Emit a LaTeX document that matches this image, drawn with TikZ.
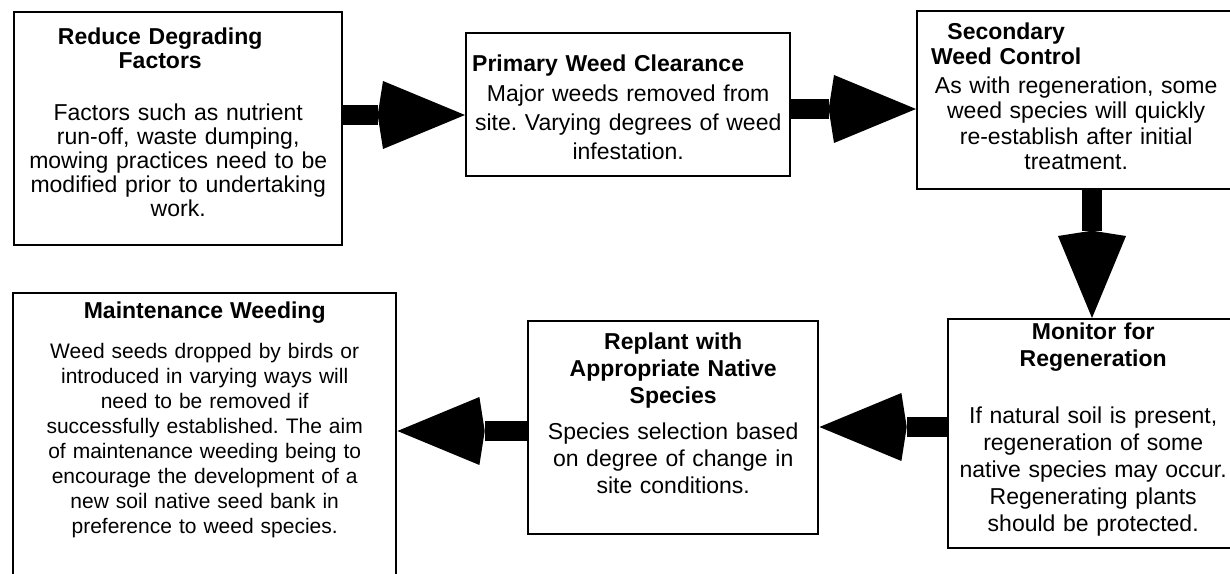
\documentclass[tikz,border=0pt]{standalone}
\usepackage{fontspec}
\setmainfont{Liberation Sans}
\usetikzlibrary{arrows.meta}
\frenchspacing
\newlength{\pix}
\setlength{\pix}{0.75pt}
\newcommand{\head}[1]{{\bfseries #1}}
\tikzset{
  stage/.style={
    draw,
    rectangle,
    line width=1.8pt,
    anchor=north west,
    align=center,
    inner xsep=6\pix,
    inner ysep=0pt,
    font=\fontsize{17.25pt}{#1}\selectfont
  },
  flowarrow/.style={-{Stealth[length=61.5pt,width=51pt,inset=-4pt,line width=0pt]},line width=15pt}
}

\begin{document}
\begin{tikzpicture}[x=0.75pt,y=-0.75pt]
  \useasboundingbox (0,0) rectangle (1230,574);
  \clip (0,0) rectangle (1230,574);
  \node[stage=24\pix,text width=316\pix,text height=32\pix,text depth=201\pix] (reduce) at (13,11)
    {\head{Reduce Degrading}\makebox[36\pix]{}\\\head{Factors}\makebox[36\pix]{}\\[28\pix]
     Factors such as nutrient\\run-off, waste dumping,\\mowing practices need to be\\modified prior to undertaking\\work.};
  \node[stage=29\pix,text width=312\pix,text height=38\pix,text depth=105\pix] (primary) at (465,32)
    {\head{Primary Weed Clearance}\hfill\mbox{}\\[1\pix]
     Major weeds removed from\\site. Varying degrees of weed\\infestation.};
  \node[stage=25.5\pix,text width=306\pix,text height=28\pix,text depth=150\pix] (secondary) at (916,10)
    {\head{Secondary}\makebox[140\pix]{}\\\head{Weed Control}\makebox[140\pix]{}\\[3\pix]
     As with regeneration, some\\weed species will quickly\\re-establish after initial\\treatment.};
  \node[stage=27\pix,text width=278\pix,text height=20\pix,text depth=209\pix] (monitor) at (947,318)
    {\head{Monitor for}\\\head{Regeneration}\\[30\pix]
     If natural soil is present,\\regeneration of some\\native species may occur.\\Regenerating plants\\should be protected.};
  \node[stage=27\pix,text width=278\pix,text height=28\pix,text depth=185\pix] (replant) at (527,320)
    {\head{Replant with}\\\head{Appropriate Native}\\\head{Species}\\[9\pix]
     Species selection based\\on degree of change in\\site conditions.};
  \node[stage=25\pix,font=\fontsize{15.75pt}{25\pix}\selectfont,text width=371\pix,text height=25\pix,text depth=300\pix] (maintain) at (12,292)
    {{\fontsize{17.25pt}{25\pix}\selectfont\head{Maintenance Weeding}}\\[15\pix]
     Weed seeds dropped by birds or\\introduced in varying ways will\\need to be removed if\\successfully established. The aim\\of maintenance weeding being to\\encourage the development of a\\new soil native seed bank in\\preference to weed species.};
  \draw[flowarrow] (reduce.east |- 0,115) -- (primary.west |- 0,115);
  \draw[flowarrow] (primary.east |- 0,109) -- (secondary.west |- 0,109);
  \draw[flowarrow] (secondary.south -| 1092,0) -- (monitor.north -| 1092,0);
  \draw[flowarrow] (monitor.west |- 0,427) -- (replant.east |- 0,427);
  \draw[flowarrow] (replant.west |- 0,431) -- (maintain.east |- 0,431);
\end{tikzpicture}
\end{document}
